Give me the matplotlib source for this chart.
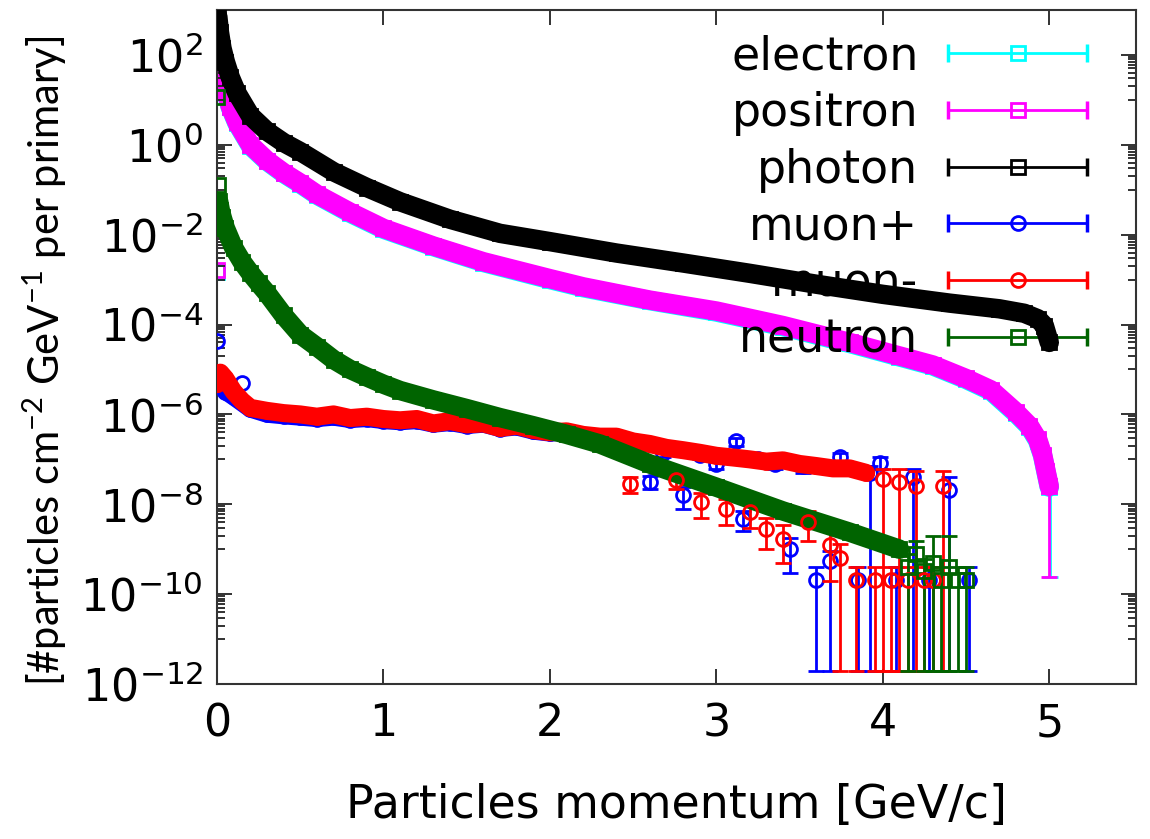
import matplotlib
matplotlib.use("Agg")
import matplotlib.pyplot as plt
from matplotlib.lines import Line2D
from matplotlib.legend_handler import HandlerLine2D, HandlerTuple
from matplotlib.ticker import FixedLocator, FixedFormatter, NullFormatter

plt.rcParams.update({
	"font.family": "DejaVu Sans",
	"mathtext.default": "regular",
})

# ---- data ----------------------------------------------------------------
photon_x = [0.005, 0.015, 0.03, 0.05, 0.08, 0.12, 0.2, 0.3, 0.4, 0.5, 0.7, 0.9,
	1.1, 1.4, 1.7, 2.0, 2.4, 2.8, 3.2, 3.6, 4.0, 4.4, 4.7, 4.85, 4.93, 4.97, 5.0]
photon_y = [708, 316, 141, 70.8, 31.6, 14.1, 4.47, 2.0, 1.12, 0.708, 0.251, 0.112,
	5.4e-2, 2.2e-2, 1.07e-2, 7.0e-3, 3.9e-3, 2.34e-3, 1.38e-3, 7.9e-4, 4.7e-4,
	3.0e-4, 2.24e-4, 1.78e-4, 1.35e-4, 9.5e-5, 4.0e-5]

positron_x = [0.005, 0.015, 0.03, 0.05, 0.08, 0.12, 0.2, 0.3, 0.4, 0.5, 0.6, 0.8,
	1.0, 1.3, 1.6, 2.0, 2.2, 2.6, 3.0, 3.4, 3.8, 4.1, 4.3, 4.5, 4.65, 4.8, 4.88,
	4.93, 4.96, 4.98, 5.0]
positron_y = [224, 100, 40, 17.8, 7.1, 3.16, 1.0, 0.447, 0.24, 0.141, 7.9e-2,
	3.16e-2, 1.38e-2, 5.6e-3, 2.5e-3, 1.05e-3, 6.9e-4, 3.5e-4, 2.0e-4, 9.5e-5,
	4.0e-5, 2.0e-5, 1.26e-5, 6.3e-6, 3.5e-6, 1.12e-6, 5.6e-7, 2.8e-7, 1.26e-7,
	5.6e-8, 2.5e-8]
electron_y = [200, 95, 38, 16.5, 6.8, 3.0, 0.95, 0.43, 0.23, 0.135, 7.6e-2,
	3.0e-2, 1.32e-2, 5.4e-3, 2.4e-3, 1.0e-3, 6.6e-4, 3.4e-4, 1.9e-4, 9.0e-5,
	3.8e-5, 1.9e-5, 1.2e-5, 6.0e-6, 3.3e-6, 1.05e-6, 5.3e-7, 2.6e-7, 1.2e-7,
	5.3e-8, 2.4e-8]
lepton_first_y = [1.5e-3, 1.6e-3]   # first bin: electron, positron
lepton_last_lo = 2.4e-10            # lower end of the last error bar

neutron_x = [0.01, 0.02, 0.03, 0.05, 0.1, 0.15, 0.2, 0.25, 0.3, 0.4, 0.5, 0.6,
	0.7, 0.8, 0.9, 1.0, 1.1, 1.3, 1.5, 1.7, 1.9, 2.1, 2.3, 2.6, 3.0, 3.4, 3.8, 4.1]
neutron_y = [5.5e-2, 3.5e-2, 2.5e-2, 1.4e-2, 5.1e-3, 2.5e-3, 1.4e-3, 8.3e-4,
	5.0e-4, 1.6e-4, 6.0e-5, 3.2e-5, 1.66e-5, 1.0e-5, 6.8e-6, 4.7e-6, 3.4e-6,
	2.1e-6, 1.35e-6, 8.5e-7, 5.6e-7, 3.6e-7, 2.2e-7, 7.9e-8, 2.4e-8, 7.1e-9,
	2.4e-9, 1.0e-9]
neutron_first_x = [0.0, 0.004]
neutron_first_y = [11.7, 0.13]
neutron_tail_x = [4.15, 4.2, 4.25, 4.3, 4.35, 4.4, 4.45, 4.5]
neutron_tail_y = [4.0e-10, 7.9e-10, 3.2e-10, 5.0e-10, 2.1e-10, 4.0e-10, 2.1e-10,
	2.1e-10]
neutron_tail_lo = [2e-12, 3e-10, 2e-12, 2e-12, 2e-12, 2e-12, 2e-12, 2e-12]
neutron_tail_hi = [8e-10, 1.5e-9, 6e-10, 2e-9, 4e-10, 2e-9, 4e-10, 4e-10]

muplus_x = [0.02, 0.05, 0.1, 0.2, 0.3, 0.4, 0.5, 0.6, 0.7, 0.8, 0.9, 1.0,
	1.1, 1.2, 1.3, 1.4, 1.5, 1.6, 1.7, 1.8, 1.9, 2.0, 2.1, 2.2, 2.3, 2.4]
muplus_y = [4.5e-6, 3.2e-6, 2.4e-6, 1.3e-6, 1.0e-6, 9.2e-7, 8.6e-7,
	8.0e-7, 8.6e-7, 7.6e-7, 8.0e-7, 7.2e-7, 6.8e-7, 7.2e-7, 6.0e-7, 6.5e-7,
	5.6e-7, 6.0e-7, 4.8e-7, 5.2e-7, 4.2e-7, 3.8e-7, 4.0e-7, 3.3e-7, 3.0e-7,
	3.0e-7]
muplus_spike_x = [0.0, 0.15]
muplus_spike_y = [4.2e-5, 5.1e-6]
muplus_tail_x = [2.52, 2.6, 2.68, 2.8, 2.9, 3.0, 3.12, 3.16, 3.25, 3.35, 3.44,
	3.52, 3.6, 3.68, 3.74, 3.85, 3.92, 3.98, 4.08, 4.18, 4.28, 4.4, 4.52]
muplus_tail_y = [2.0e-7, 3.2e-8, 1.4e-7, 1.6e-8, 1.26e-7, 7.9e-8, 2.5e-7,
	4.7e-9, 1.0e-7, 7.9e-8, 1.0e-9, 7.1e-8, 2.1e-10, 5.4e-10, 1.1e-7, 2.1e-10,
	5.0e-8, 8.5e-8, 2.1e-10, 4.0e-8, 2.1e-10, 2.1e-8, 2.1e-10]
muplus_tail_lo = [1.6e-7, 2.2e-8, 1.1e-7, 8e-9, 1.0e-7, 6e-8, 2.0e-7, 2.5e-9,
	7.5e-8, 6e-8, 3e-10, 5e-8, 2e-12, 2e-12, 8e-8, 2e-12, 2e-12, 6e-8, 2e-12,
	2e-12, 2e-12, 2e-12, 2e-12]
muplus_tail_hi = [2.4e-7, 4.2e-8, 1.7e-7, 2.4e-8, 1.5e-7, 1.0e-7, 3.0e-7,
	7e-9, 1.25e-7, 1.0e-7, 1.8e-9, 9e-8, 4e-10, 9e-10, 1.4e-7, 4e-10, 7e-8,
	1.1e-7, 4e-10, 6e-8, 4e-10, 4e-8, 4e-10]

muminus_x = [0.0, 0.02, 0.05, 0.1, 0.15, 0.2, 0.3, 0.4, 0.5, 0.6, 0.7, 0.8, 0.9,
	1.0, 1.1, 1.2, 1.3, 1.4, 1.5, 1.6, 1.7, 1.8, 1.9, 2.0, 2.1, 2.2, 2.3, 2.4,
	2.5, 2.6, 2.7, 2.8, 2.9, 3.0, 3.1, 3.2, 3.3, 3.4, 3.5, 3.6, 3.7, 3.8, 3.9]
muminus_y = [4.7e-6, 8.5e-6, 6.3e-6, 3.2e-6, 2.0e-6, 1.4e-6, 1.2e-6, 1.07e-6,
	1.0e-6, 8.9e-7, 1.0e-6, 8.3e-7, 8.9e-7, 7.9e-7, 7.4e-7, 7.9e-7, 6.3e-7,
	7.1e-7, 6.0e-7, 6.3e-7, 5.0e-7, 5.6e-7, 4.5e-7, 4.0e-7, 4.2e-7, 3.5e-7,
	3.2e-7, 3.2e-7, 2.5e-7, 2.2e-7, 1.8e-7, 1.6e-7, 1.4e-7, 1.2e-7, 1.1e-7,
	1.0e-7, 8.9e-8, 9.5e-8, 7.9e-8, 7.1e-8, 6.3e-8, 6.3e-8, 5.0e-8]
muminus_tail_x = [2.48, 2.76, 2.91, 3.06, 3.2, 3.3, 3.4, 3.55, 3.68, 3.74, 3.84,
	3.95, 4.0, 4.05, 4.1, 4.15, 4.2, 4.25, 4.3, 4.36]
muminus_tail_y = [2.8e-8, 3.5e-8, 1.1e-8, 7.9e-9, 6.6e-9, 2.8e-9, 1.7e-9,
	4.0e-9, 1.26e-9, 6.3e-10, 2.1e-10, 2.1e-10, 3.6e-8, 2.1e-10, 3.2e-8,
	2.1e-10, 2.5e-8, 2.1e-10, 2.1e-10, 2.5e-8]
muminus_tail_lo = [1.8e-8, 2.2e-8, 5e-9, 3.5e-9, 3e-9, 1e-9, 5e-10, 1.5e-9,
	2e-10, 2e-12, 2e-12, 2e-12, 2e-12, 2e-12, 2e-12, 2e-12, 2e-12, 2e-12,
	2e-12, 2e-12]
muminus_tail_hi = [4.0e-8, 5e-8, 1.8e-8, 1.3e-8, 1.1e-8, 5e-9, 3.5e-9, 7e-9,
	2.5e-9, 1.3e-9, 4e-10, 4e-10, 6e-8, 4e-10, 6e-8, 4e-10, 5.5e-8, 4e-10,
	4e-10, 5.5e-8]

labels = ["electron", "positron", "photon", "muon+", "muon-", "neutron"]
colors = ["#00ffff", "#ff00ff", "#000000", "#0000ff", "#ff0000", "#006400"]
markers = ["s", "s", "s", "o", "o", "s"]

ytick_exp = [-12, -10, -8, -6, -4, -2, 0, 2]
xticks = [0, 1, 2, 3, 4, 5]

MS = 10
MEW = 2
BAND = 14


def band(ax, x, y, c, m, z, lw=BAND):
	ax.plot(x, y, color=c, lw=lw, solid_capstyle="round",
		solid_joinstyle="round", zorder=z)
	ax.plot(x, y, ls="none", marker=m, ms=MS, mfc="none", mec=c, mew=MEW,
		zorder=z)


def single(ax, x, y, c, m, z):
	ax.plot(x, y, ls="none", marker=m, ms=MS, mfc="none", mec=c, mew=MEW,
		zorder=z)


def points(ax, x, y, lo, hi, c, m, z):
	err = [[b - a for a, b in zip(lo, y)], [b - a for a, b in zip(y, hi)]]
	ax.errorbar(x, y, yerr=err, fmt=m, ms=MS, mfc="none", mec=c, mew=MEW,
		color=c, elinewidth=2, capsize=6, capthick=2, zorder=z)


fig = plt.figure(figsize=(11.5, 8.39), dpi=100)
ax = fig.add_axes([0.1887, 0.1847, 0.799, 0.8034])
ax.set_yscale("log")

# electron / positron (the electron sits under the positron)
band(ax, positron_x, electron_y, colors[0], "s", 1.0)
band(ax, positron_x, positron_y, colors[1], "s", 1.1)
for yy, c, z in zip(lepton_first_y, colors[:2], (1.0, 1.1)):
	single(ax, [0.0], [yy], c, "s", z)
for yy, c, z, dx in zip((electron_y[-1], positron_y[-1]), colors[:2],
		(1.0, 1.1), (0.005, 0.0)):
	ax.errorbar([positron_x[-1] + dx], [yy], yerr=[[yy - lepton_last_lo], [0]],
		fmt="none", ecolor=c, elinewidth=2, capsize=6, capthick=2, zorder=z)

# photon
band(ax, photon_x, photon_y, colors[2], "s", 3)

# muons
band(ax, muplus_x, muplus_y, colors[3], "o", 3.1, lw=12)
single(ax, muplus_spike_x, muplus_spike_y, colors[3], "o", 3.1)
points(ax, muplus_tail_x, muplus_tail_y, muplus_tail_lo, muplus_tail_hi,
	colors[3], "o", 3.1)
band(ax, muminus_x, muminus_y, colors[4], "o", 3.2, lw=13)
points(ax, muminus_tail_x, muminus_tail_y, muminus_tail_lo, muminus_tail_hi,
	colors[4], "o", 3.2)

# neutron
band(ax, neutron_x, neutron_y, colors[5], "s", 3.3)
single(ax, neutron_first_x, neutron_first_y, colors[5], "s", 3.3)
points(ax, neutron_tail_x, neutron_tail_y, neutron_tail_lo, neutron_tail_hi,
	colors[5], "s", 3.3)

ax.set_xlim(0, 5.52)
ax.set_ylim(1e-12, 1e3)

ax.xaxis.set_major_locator(FixedLocator(xticks))
ax.yaxis.set_major_locator(FixedLocator([10.0 ** e for e in ytick_exp]))
ax.yaxis.set_major_formatter(FixedFormatter(["$10^{%d}$" % e for e in ytick_exp]))
ax.yaxis.set_minor_locator(FixedLocator(
	[k * 10.0 ** (e + 1) for e in ytick_exp for k in range(1, 10)]))
ax.yaxis.set_minor_formatter(NullFormatter())
ax.tick_params(which="both", direction="in", top=True, right=True, width=1.3,
	colors="#222222", labelcolor="black")
ax.tick_params(which="major", length=11, labelsize=32, pad=10)
ax.tick_params(which="minor", length=6)
ax.tick_params(axis="x", which="major", pad=13)
for s in ax.spines.values():
	s.set_linewidth(1.5)
	s.set_color("#333333")

ax.set_xlabel("Particles momentum [GeV/c]", fontsize=33, labelpad=27)
fig.text(0.039, 0.57, "[#particles cm$^{-2}$ GeV$^{-1}$ per primary]",
	rotation=90, ha="center", va="center", fontsize=30, family="Lato")

# legend: line with end caps, marker in the middle
handles = []
hmap = {}
for c, m in zip(colors, markers):
	line = Line2D([], [], color=c, lw=2, marker=m, ms=MS, mfc="none", mec=c,
		mew=MEW)
	caps = Line2D([], [], color=c, lw=0, marker="|", ms=13, mew=2.5)
	hmap[line] = HandlerLine2D(numpoints=1)
	hmap[caps] = HandlerLine2D(numpoints=2, marker_pad=0)
	handles.append((line, caps))
hmap[tuple] = HandlerTuple(ndivide=1)
leg = ax.legend(handles, labels, handler_map=hmap, loc="upper right",
	bbox_to_anchor=(0.947, 0.964), frameon=False, fontsize=33,
	markerfirst=False, handlelength=3.03, handletextpad=0.65, labelspacing=0.255,
	borderpad=0, borderaxespad=0)
for t in leg.get_texts():
	t.set_ha("right")
leg.set_zorder(2)

fig.savefig("out.png", dpi=100)
